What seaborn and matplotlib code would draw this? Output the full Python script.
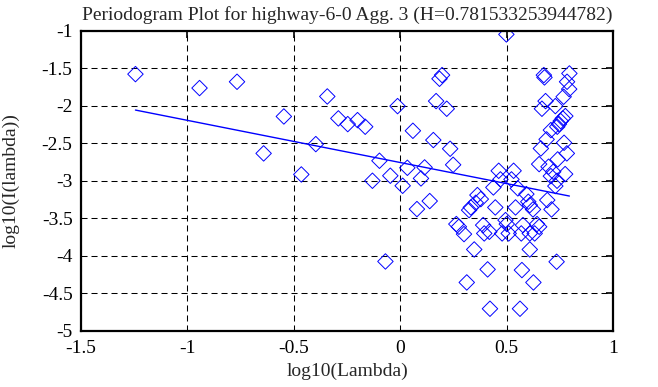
import matplotlib
matplotlib.use("Agg")
import matplotlib.pyplot as plt
import seaborn as sns
import numpy as np

# periodogram points (log10 lambda, log10 I(lambda))
log_lambda = [
    -1.244, -0.943, -0.767, -0.547, -0.642, -0.343, -0.291, -0.247, -0.201, -0.165,
    -0.397, -0.465, -0.098, -0.131, -0.047, -0.070,
    0.498, 0.196, 0.184, 0.674, 0.677, 0.794, 0.783, 0.793, 0.767,
    -0.013, 0.168, 0.218, 0.682, 0.665, 0.728,
    0.775, 0.763, 0.753, 0.745, 0.737, 0.707, 0.059, 0.155, 0.234,
    0.687, 0.660, 0.769, 0.782, 0.248, 0.652, 0.739,
    0.033, 0.114, 0.097, 0.011, 0.462, 0.532, 0.470, 0.522, 0.437, 0.552,
    0.696, 0.718, 0.707, 0.736, 0.774, 0.728,
    0.138, 0.078, 0.362, 0.378, 0.354, 0.331, 0.323, 0.446, 0.541,
    0.592, 0.601, 0.623, 0.608, 0.690, 0.710,
    0.263, 0.275, 0.299, 0.389, 0.418, 0.394, 0.494, 0.500, 0.478, 0.509,
    0.576, 0.568, 0.608, 0.631, 0.642, 0.652,
    0.347, 0.608, 0.734, 0.410, 0.571, 0.312, 0.625, 0.421, 0.562,
]
log_power = [
    -1.576, -1.762, -1.678, -2.141, -2.634, -1.874, -2.167, -2.243, -2.190, -2.278,
    -2.510, -2.915, -2.732, -2.999, -2.932, -4.076,
    -1.046, -1.589, -1.638, -1.589, -1.620, -1.567, -1.678, -1.776, -1.878,
    -2.003, -1.936, -2.038, -1.936, -2.038, -2.003,
    -2.136, -2.167, -2.203, -2.243, -2.278, -2.323, -2.332, -2.456, -2.572,
    -2.447, -2.568, -2.492, -2.634, -2.786, -2.777, -2.714,
    -2.826, -2.821, -2.968, -3.066, -2.866, -2.866, -2.981, -2.981, -3.088, -3.101,
    -2.812, -2.879, -2.937, -2.999, -2.910, -3.070,
    -3.270, -3.377, -3.190, -3.244, -3.293, -3.355, -3.391, -3.355, -3.355,
    -3.177, -3.279, -3.382, -3.324, -3.257, -3.382,
    -3.577, -3.613, -3.711, -3.591, -3.680, -3.702, -3.524, -3.577, -3.702, -3.702,
    -3.591, -3.702, -3.702, -3.702, -3.577, -3.613,
    -3.916, -3.916, -4.080, -4.182, -4.191, -4.356, -4.356, -4.707, -4.707,
]

H = 0.781533253944782
fit_intercept = -2.756
fit_slope = 1 - 2 * H

x_ticks = [-1.5, -1, -0.5, 0, 0.5, 1]
y_ticks = [-5, -4.5, -4, -3.5, -3, -2.5, -2, -1.5, -1]


def main():
    sns.set_style("white")
    plt.rcParams['font.family'] = ['Liberation Serif', 'DejaVu Serif']

    fig = plt.figure(figsize=(6.58, 3.87), dpi=100)
    ax = fig.add_axes([0.123, 0.1455, 0.809, 0.7745])

    sns.scatterplot(x=log_lambda, y=log_power, marker='D', s=62,
                    facecolors='none', edgecolor='blue', linewidth=0.7, ax=ax)

    fit_x = np.array([min(log_lambda), max(log_lambda)])
    sns.lineplot(x=fit_x, y=fit_intercept + fit_slope * fit_x,
                 color='blue', linewidth=1.0, ax=ax)

    ax.set_xlim(-1.5, 1)
    ax.set_ylim(-5, -1)
    ax.set_xticks(x_ticks)
    ax.set_yticks(y_ticks)
    ax.set_xticklabels([f"{t:g}" for t in x_ticks])
    ax.set_yticklabels([f"{t:g}" for t in y_ticks])
    ax.grid(True, color='black', linestyle=(0, (5.8, 3.8)), linewidth=0.75)
    ax.tick_params(direction='in', top=True, right=True, length=5,
                   width=1.2, colors='black', labelsize=14)
    ax.tick_params(axis='x', pad=7)
    ax.tick_params(axis='y', pad=6)
    for sp in ax.spines.values():
        sp.set_color('black')
        sp.set_linewidth(1.6)

    ax.set_title(f"Periodogram Plot for highway-6-0 Agg. 3 (H={H})",
                 fontsize=14, pad=8)
    ax.set_xlabel("log10(Lambda)", fontsize=14, labelpad=4)
    ax.set_ylabel("log10(I(lambda))", fontsize=14, labelpad=16)

    fig.savefig("out.png", dpi=100)
    plt.close(fig)


if __name__ == "__main__":
    main()
